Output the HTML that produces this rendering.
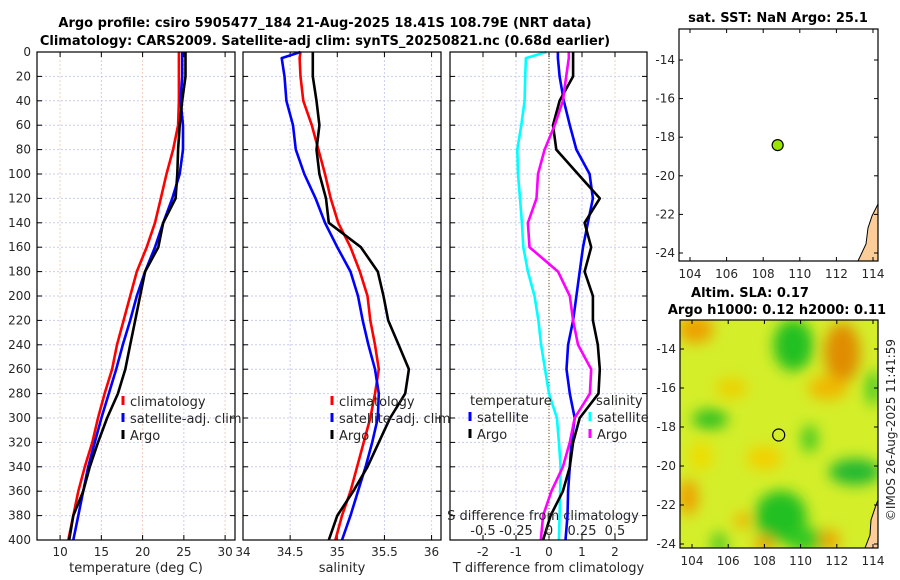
<!DOCTYPE html>
<html><head><meta charset="utf-8">
<style>
body{margin:0;background:#fff;}
svg{display:block;font-family:"DejaVu Sans","Liberation Sans",sans-serif;}
.tk{font-size:12px;fill:#262626;}
.lb{font-size:13px;fill:#262626;}
.tt{font-size:13px;font-weight:bold;fill:#000;}
</style></head>
<body>
<svg id="fig" width="900" height="580" viewBox="0 0 900 580">
<defs>
<filter id="blur" x="-50%" y="-50%" width="200%" height="200%"><feGaussianBlur stdDeviation="7"/></filter>
<clipPath id="clipM2"><rect x="680" y="320" width="198" height="228"/></clipPath>
</defs>
<text class="tt" x="325" y="27" text-anchor="middle">Argo profile: csiro 5905477_184 21-Aug-2025 18.41S 108.79E (NRT data)</text>
<text class="tt" x="325" y="45" text-anchor="middle">Climatology: CARS2009. Satellite-adj clim: synTS_20250821.nc (0.68d earlier)</text>
<g id="plots"></g>
</svg>
<script>
// depth levels (m)
const depths = [0,5,20,40,60,80,100,120,140,160,180,200,220,240,260,280,300,320,340,360,380,400];
// temperature panel
const tClim = [24.4,24.4,24.4,24.4,24.3,23.7,22.9,22.2,21.5,20.5,19.3,18.5,17.7,16.9,16.3,15.4,14.6,13.9,13.0,12.2,11.6,11.0];
const tSat  = [24.8,24.8,24.8,24.6,24.9,24.9,24.5,23.6,22.5,21.5,20.3,19.3,18.5,17.6,16.8,15.9,15.0,14.2,13.4,12.8,12.2,11.6];
const tArgo = [25.2,25.2,25.2,24.8,24.5,24.3,24.2,24.0,22.5,21.9,20.3,19.7,19.1,18.5,17.9,17.0,15.7,14.6,13.6,12.8,11.6,11.1];
// salinity panel
const sClim = [34.61,34.60,34.61,34.64,34.73,34.80,34.87,34.93,35.01,35.14,35.24,35.32,35.35,35.40,35.44,35.40,35.35,35.28,35.21,35.14,35.05,34.98];
const sSat  = [34.61,34.41,34.44,34.46,34.53,34.56,34.65,34.77,34.87,35.00,35.14,35.22,35.27,35.33,35.40,35.44,35.43,35.37,35.30,35.22,35.14,35.05];
const sArgo = [34.74,34.74,34.74,34.78,34.81,34.78,34.81,34.88,34.91,35.25,35.43,35.49,35.54,35.65,35.76,35.72,35.56,35.44,35.32,35.17,35.00,34.91];
// difference panel (T diff in degC, S diff in psu)
const dTSat  = [0.27,0.27,0.32,0.45,0.63,0.83,1.23,1.33,1.18,1.03,0.93,0.83,0.73,0.58,0.53,0.63,0.78,0.68,0.63,0.58,0.56,0.50];
const dTArgo = [0.73,0.73,0.73,0.32,0.12,0.22,0.88,1.54,1.08,1.28,1.08,1.33,1.33,1.48,1.54,1.50,0.93,0.73,0.63,0.42,0.05,-0.18];
const dSSat  = [-0.02,-0.175,-0.18,-0.185,-0.21,-0.24,-0.235,-0.22,-0.205,-0.195,-0.16,-0.11,-0.08,-0.06,-0.03,0.0,0.06,0.075,0.088,0.085,0.08,0.075];
const dSArgo = [0.15,0.15,0.13,0.105,0.043,-0.033,-0.083,-0.095,-0.16,-0.148,0.068,0.158,0.183,0.22,0.32,0.31,0.195,0.158,0.105,0.018,-0.045,-0.062];
const tTicks = [10,15,20,25,30];
const sTicks = [34,34.5,35,35.5,36];
const dTicks = [-2,-1,0,1,2];
const dSTickLabels = ['-0.5','-0.25','0','0.25','0.5'];
const dSTickVals = [-0.5,-0.25,0,0.25,0.5];
const depthTicks = [0,20,40,60,80,100,120,140,160,180,200,220,240,260,280,300,320,340,360,380,400];
const mapLats = [-14,-16,-18,-20,-22,-24];
const mapLons = [104,106,108,110,112,114];
const floatLon = 108.79, floatLat = -18.41;

const NS='http://www.w3.org/2000/svg';
const root=document.getElementById('plots');
function el(tag,attrs,parent){const e=document.createElementNS(NS,tag);for(const k in attrs)e.setAttribute(k,attrs[k]);(parent||root).appendChild(e);return e;}
const Y0=52,Y1=540;
const yD=d=>Y0+(Y1-Y0)*d/400;

const panels=[
 {name:'temperature',x0:37,x1:235,v0:7.2,v1:31.2,ticks:tTicks,lab:'temperature (deg C)'},
 {name:'salinity',x0:243,x1:441,v0:34.0,v1:36.1,ticks:sTicks,lab:'salinity'},
 {name:'difference',x0:450,x1:647,v0:-3.0,v1:2.97,ticks:dTicks,lab:'T difference from climatology'}
];
panels.forEach(p=>{p.sx=v=>p.x0+(v-p.v0)/(p.v1-p.v0)*(p.x1-p.x0);});

function line(p,vals,color,name,scale){
  const g=el('polyline',{fill:'none',stroke:color,'stroke-width':2.6,'stroke-linejoin':'round',
    points:vals.map((v,i)=>p.sx(v*(scale||1)).toFixed(1)+','+yD(depths[i]).toFixed(1)).join(' ')});
  
  
}

panels.forEach((p,pi)=>{
  const g=el('g',{});
  
  
  depthTicks.forEach(d=>{
    const gl=el('line',{x1:p.x0,x2:p.x1,y1:yD(d),y2:yD(d),stroke:'#c8cdf0','stroke-width':1,'stroke-dasharray':'2,2'},g);
    
    
    el('line',{x1:p.x0,x2:p.x0+5,y1:yD(d),y2:yD(d),stroke:'#000'},g);
    el('line',{x1:p.x1-5,x2:p.x1,y1:yD(d),y2:yD(d),stroke:'#000'},g);
  });
  p.ticks.forEach((t,i)=>{
    const gl=el('line',{x1:p.sx(t),x2:p.sx(t),y1:Y0,y2:Y1,stroke:i%2?'#c8cdf0':'#f0d0c0','stroke-width':1,'stroke-dasharray':'2,2'},g);
    
    
    el('line',{x1:p.sx(t),x2:p.sx(t),y1:Y1-5,y2:Y1,stroke:'#000'},g);
    el('line',{x1:p.sx(t),x2:p.sx(t),y1:Y0,y2:Y0+5,stroke:'#000'},g);
    const tx=el('text',{class:'tk',x:p.sx(t),y:556,'text-anchor':'middle'},g);
    tx.textContent=String(t);
    
    
  });
  const xl=el('text',{class:'lb',x:(p.x0+p.x1)/2,y:572,'text-anchor':'middle'},g);
  xl.textContent=p.lab;
  
  
});
depthTicks.forEach(d=>{
  const t=el('text',{class:'tk',x:31,y:yD(d)+4,'text-anchor':'end'});
  t.textContent=String(d);
  
  
});
const P1=panels[0],P2=panels[1],P3=panels[2];
const zl=el('line',{x1:P3.sx(0),x2:P3.sx(0),y1:Y0,y2:Y1,stroke:'#555522','stroke-width':1,'stroke-dasharray':'1,2'});



line(P1,tClim,'#ff0000','temp-climatology-line');
line(P1,tSat,'#0000ff','temp-satellite-line');
line(P1,tArgo,'#000000','temp-argo-line');
line(P2,sClim,'#ff0000','sal-climatology-line');
line(P2,sSat,'#0000ff','sal-satellite-line');
line(P2,sArgo,'#000000','sal-argo-line');
line(P3,dSSat,'#00ffff','s-diff-satellite-line',4);
line(P3,dTSat,'#0000ff','t-diff-satellite-line');
line(P3,dTArgo,'#000000','t-diff-argo-line');
line(P3,dSArgo,'#ff00ff','s-diff-argo-line',4);

panels.forEach(p=>{
  const r=el('rect',{x:p.x0,y:Y0,width:p.x1-p.x0,height:Y1-Y0,fill:'none',stroke:'#000','stroke-width':1.2});
  
  
});

function legend(x,y,items,name){
  const g=el('g',{});
  
  
  items.forEach((it,i)=>{
    if(it[1]){el('line',{x1:x,x2:x,y1:y+i*17-10,y2:y+i*17-1,stroke:it[1],'stroke-width':3},g);}
    const t=el('text',{class:'lb',x:it[1]?x+7:x,y:y+i*17},g);
    t.textContent=it[0];
    
    
  });
}
legend(123,406,[['climatology','#ff0000'],['satellite-adj. clim','#0000ff'],['Argo','#000000']],'temp-legend');
legend(332,406,[['climatology','#ff0000'],['satellite-adj. clim','#0000ff'],['Argo','#000000']],'sal-legend');
legend(470,405,[['temperature',null],['satellite','#0000ff'],['Argo','#000000']],'diff-temp-legend');
legend(596,405,[['salinity',null]],'diff-sal-legend-title');
legend(590,422,[['satellite','#00ffff'],['Argo','#ff00ff']],'diff-sal-legend');
const sdt=el('text',{class:'lb',x:543,y:520,'text-anchor':'middle'});
sdt.textContent='S difference from climatology';


dSTickVals.forEach((v,i)=>{
  const t=el('text',{class:'lb',x:P3.sx(v*4),y:535,'text-anchor':'middle'});
  t.textContent=dSTickLabels[i];
  
  
});

function map(m){
  const lx=v=>m.x0+(v-104)/10*(m.lx1-m.x0);
  const ly=v=>m.ly0+(v+14)/(-10)*(m.ly1-m.ly0);
  const g=el('g',{});
  
  
  if(m.sla){
    const fg=el('g',{'clip-path':'url(#clipM2)'},g);
    el('rect',{x:m.bx,y:m.by,width:m.bw,height:m.bh,fill:'#d4ee2a'},fg);
    const bf=el('g',{filter:'url(#blur)'},fg);
    m.blobs.forEach(b=>{const e=el('ellipse',{cx:lx(b[0]),cy:ly(b[1]),rx:b[2],ry:b[3],fill:b[4]},bf);});
  }
  const c=el('polygon',{points:m.coast,fill:'#fccc99',stroke:'#000','stroke-width':1},g);
  
  
  const fr=el('rect',{x:m.bx,y:m.by,width:m.bw,height:m.bh,fill:'none',stroke:'#000','stroke-width':1.2},g);
  
  
  mapLats.forEach(v=>{
    el('line',{x1:m.bx,x2:m.bx+4,y1:ly(v),y2:ly(v),stroke:'#000'},g);
    el('line',{x1:m.bx+m.bw-4,x2:m.bx+m.bw,y1:ly(v),y2:ly(v),stroke:'#000'},g);
    const t=el('text',{class:'tk',x:m.bx-4,y:ly(v)+4,'text-anchor':'end'},g);
    t.textContent=String(v);
    
    
  });
  mapLons.forEach(v=>{
    el('line',{x1:lx(v),x2:lx(v),y1:m.by,y2:m.by+4,stroke:'#000'},g);
    el('line',{x1:lx(v),x2:lx(v),y1:m.by+m.bh-4,y2:m.by+m.bh,stroke:'#000'},g);
    const t=el('text',{class:'tk',x:lx(v),y:m.by+m.bh+17,'text-anchor':'middle'},g);
    t.textContent=String(v);
    
    
  });
  const pt=el('circle',{cx:lx(floatLon),cy:ly(floatLat),r:m.sla?6:5.5,fill:m.sla?'none':'#99e600',stroke:'#000','stroke-width':1.2},g);
  
  
}
map({name:'sst-map',x0:690,lx1:873,ly0:60,ly1:253,bx:679,by:29,bw:199,bh:232,
  coast:'858,261 866,244 868,228 872,216 878,204 878,261'});
map({name:'sla-map',x0:692,lx1:873,ly0:349,ly1:544,bx:680,by:320,bw:198,bh:228,sla:true,
  coast:'865,548 870,535 871,520 875,508 878,500 878,548',
  blobs:[[109.6,-13.8,20,26,'#20c020'],[105,-17.6,18,10,'#30c020'],[110.5,-18.6,8,14,'#40c820'],
   [113,-20.3,26,13,'#20b830'],[108.9,-22.6,26,26,'#20c020'],[110.4,-23.8,22,12,'#30c820'],
   [105.5,-24,8,12,'#50c820'],[114,-16,7,18,'#40c820'],[112.3,-14.2,18,30,'#e08c00'],
   [104.2,-13,18,14,'#eea000'],[103.8,-21.6,10,18,'#eea000'],[111.6,-23.8,10,10,'#eea000'],
   [108,-24,10,8,'#eea000'],[106.8,-22.8,8,8,'#f0b000'],[111.5,-16,20,12,'#f0b800'],
   [106.2,-16,16,10,'#ecd000'],[108,-19.6,18,12,'#f2d000'],[104.5,-19.5,12,14,'#eedc00']]});

function txt(s,x,y,cls,name,extra){const t=el('text',Object.assign({class:cls,x:x,y:y,'text-anchor':'middle'},extra||{}));t.textContent=s;}
txt('sat. SST: NaN Argo: 25.1',778,22,'tt','sst-map-title');
txt('Altim. SLA: 0.17',750,297,'tt','sla-map-title-1');
txt('Argo h1000: 0.12 h2000: 0.11',777,314,'tt','sla-map-title-2');
txt('©IMOS 26-Aug-2025 11:41:59',895,430,'tk','imos-timestamp',{transform:'rotate(-90 895 430)'});
</script>
</body></html>
